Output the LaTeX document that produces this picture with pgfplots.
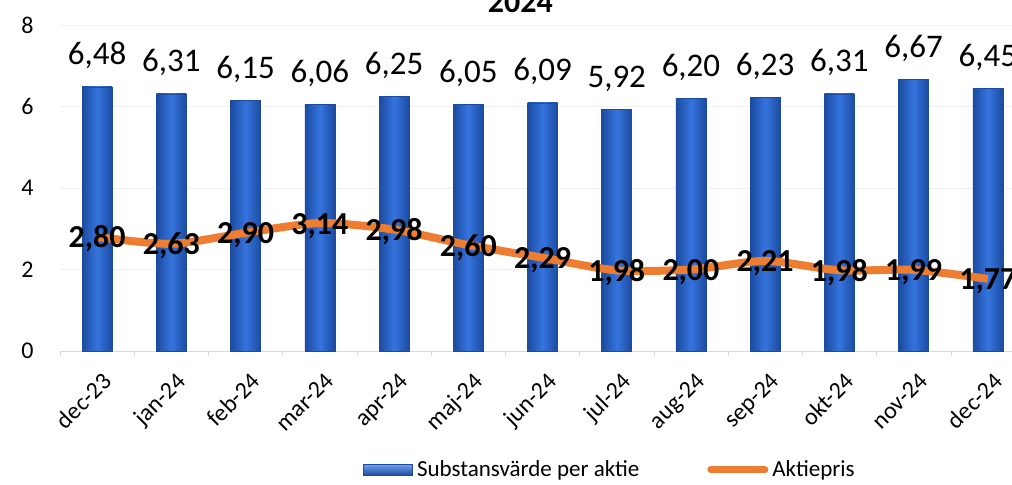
\documentclass[border=0pt]{standalone}
\usepackage{pgfplots}
\pgfplotsset{compat=1.18}
\usepackage{fontspec}
\setmainfont{Carlito}
\definecolor{barmid}{HTML}{3574DE}
\definecolor{baredge}{HTML}{1C4BA0}
\definecolor{lineor}{HTML}{ED7D31}
\definecolor{gridc}{HTML}{F0F0F0}
\definecolor{axc}{HTML}{D9D9D9}
\pgfplotsset{
  mybar/.style={ybar, bar width=15pt, bar shift=0pt, draw=baredge, line width=0.3pt,
    left color=baredge, right color=baredge, middle color=barmid,
    legend image code/.code={\fill[top color=barmid!70!white, bottom color=baredge] (0pt,-2.7pt) rectangle (24.5pt,2.7pt);},
    nodes near coords,
    every node near coord/.append style={font=\fontsize{16.5}{18}\selectfont, text=black, inner sep=0pt, anchor=base, yshift=11pt},
    /pgf/number format/fixed, /pgf/number format/fixed zerofill, /pgf/number format/precision=2,
    /pgf/number format/use comma, /pgf/number format/assume math mode=true},
}
\begin{document}
\begin{tikzpicture}
\begin{axis}[
  at={(0,0)}, anchor=south west,
  scale only axis, width=482.5pt, height=163pt,
  xmin=-0.5, xmax=12.5, ymin=0, ymax=8,
  axis x line*=bottom, axis y line*=left,
  x axis line style={axc}, y axis line style={draw=none},
  xtick={0,...,12},
  xticklabels={dec-23,jan-24,feb-24,mar-24,apr-24,maj-24,jun-24,jul-24,aug-24,sep-24,okt-24,nov-24,dec-24},
  minor xtick={-0.5,0.5,...,12.5},
  ytick={0,2,4,6,8},
  tick align=outside, major tick length=0pt, minor tick length=2.5pt,
  tick style={axc},
  ymajorgrids, grid style={gridc},
  /pgf/number format/assume math mode=true,
  tick label style={font=\fontsize{12}{14}\selectfont},
  yticklabel style={anchor=east, inner sep=0pt, xshift=-13pt},
  xticklabel style={inner sep=0pt, xshift=2pt, yshift=-10pt, rotate=45, anchor=north east},
  title={2024},
  title style={at={(0.477,1)}, anchor=base, yshift=0.5pt, font=\bfseries\fontsize{16}{18}\selectfont},
  legend style={at={(0.314,-0.365)}, anchor=west, draw=none, fill=none,
    font=\fontsize{11.5}{13}\selectfont, inner sep=0pt,
    /tikz/every even column/.append style={column sep=32pt}},
  legend columns=2,
  legend cell align=left,
  clip=false,
]
\addplot[mybar] coordinates {(0,6.48)};
\addlegendentry{Substansvärde per aktie}
\addplot[forget plot, mybar] coordinates {(1,6.31)};
\addplot[forget plot, mybar] coordinates {(2,6.15)};
\addplot[forget plot, mybar] coordinates {(3,6.06)};
\addplot[forget plot, mybar] coordinates {(4,6.25)};
\addplot[forget plot, mybar] coordinates {(5,6.05)};
\addplot[forget plot, mybar] coordinates {(6,6.09)};
\addplot[forget plot, mybar] coordinates {(7,5.92)};
\addplot[forget plot, mybar] coordinates {(8,6.20)};
\addplot[forget plot, mybar] coordinates {(9,6.23)};
\addplot[forget plot, mybar] coordinates {(10,6.31)};
\addplot[forget plot, mybar] coordinates {(11,6.67)};
\addplot[forget plot, mybar] coordinates {(12,6.45)};
\addplot[lineor, line width=4pt, smooth, tension=0.45, mark=none,
  legend image code/.code={\draw[lineor, line width=3.5pt, line cap=round] (0pt,0pt) -- (27pt,0pt);},
  nodes near coords,
  every node near coord/.append style={font=\bfseries\fontsize{16}{18}\selectfont, text=black, inner sep=0pt, anchor=base, yshift=-5.5pt},
  /pgf/number format/fixed, /pgf/number format/fixed zerofill, /pgf/number format/precision=2,
  /pgf/number format/use comma, /pgf/number format/assume math mode=true,
] coordinates {
(0,2.80) (1,2.63) (2,2.90) (3,3.14) (4,2.98) (5,2.60) (6,2.29) (7,1.98) (8,2.00) (9,2.21) (10,1.98) (11,1.99) (12,1.77)
};
\addlegendentry{Aktiepris}
\end{axis}
\pgfresetboundingbox
\useasboundingbox (-30pt,-67pt) rectangle (476pt,175.5pt);
\end{tikzpicture}
\end{document}
